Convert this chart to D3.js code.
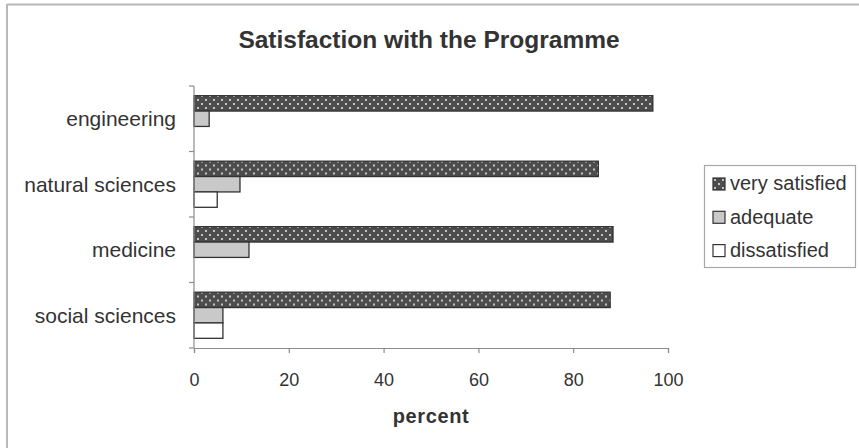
<!DOCTYPE html>
<html>
<head>
<meta charset="utf-8">
<script src="https://cdn.jsdelivr.net/npm/d3@7"></script>
<style>
  html, body { margin: 0; padding: 0; background: #fff; }
  svg { display: block; font-family: "Liberation Sans", Arial, sans-serif; }
</style>
</head>
<body>
<svg id="chart" width="859" height="448"></svg>
<script>
// Programme satisfaction by faculty (percent of respondents)
const categories = ["engineering", "natural sciences", "medicine", "social sciences"];
const seriesNames = ["very satisfied", "adequate", "dissatisfied"];
const verySatisfied = [96.8, 85.3, 88.4, 87.8];
const adequate      = [3.2, 9.7, 11.6, 6.1];
const dissatisfied  = [0, 4.9, 0, 6.1];
const xTicks = [0, 20, 40, 60, 80, 100];
const titleText = "Satisfaction with the Programme";
const xTitle = "percent";

const seriesValues = [verySatisfied, adequate, dissatisfied];
const rows = categories.map((c, i) => ({
  category: c,
  values: seriesNames.map((s, k) => ({ series: s, value: seriesValues[k][i] }))
}));

const svg = d3.select("#chart");
const textColor = "#333";
const axisColor = "#8c8c8c";

// patterns for the bar fills
const defs = svg.append("defs");
const dots = defs.append("pattern")
  .attr("id", "dots").attr("patternUnits", "userSpaceOnUse")
  .attr("width", 8).attr("height", 8)
  .attr("x", 0).attr("y", 0);
dots.append("rect").attr("width", 8).attr("height", 8).attr("fill", "#4d4d4d");
dots.append("rect").attr("x", 1).attr("y", 1).attr("width", 2).attr("height", 2).attr("fill", "#c4c4c4");
dots.append("rect").attr("x", 5).attr("y", 5).attr("width", 2).attr("height", 2).attr("fill", "#c4c4c4");

const fills = {
  "very satisfied": "url(#dots)",
  "adequate": "#c9c9c9",
  "dissatisfied": "#ffffff"
};

// chart frame (top and left edges)
svg.append("line").attr("x1", 7).attr("x2", 859).attr("y1", 4.5).attr("y2", 4.5)
  .attr("stroke", "#b8b8b8").attr("stroke-width", 2);
svg.append("line").attr("x1", 7).attr("x2", 7).attr("y1", 4).attr("y2", 448)
  .attr("stroke", "#b8b8b8").attr("stroke-width", 2);

// scales
const x = d3.scaleLinear().domain([0, 100]).range([194, 668]);
const y0 = d3.scaleBand().domain(categories).range([86, 348]).paddingInner(0).paddingOuter(0);
const y1 = d3.scaleBand().domain(seriesNames).range([0, y0.bandwidth()]).paddingInner(0).paddingOuter(0.63);

// title
svg.append("text")
  .attr("x", 429).attr("y", 48)
  .attr("text-anchor", "middle")
  .attr("font-size", 24.5).attr("font-weight", "bold")
  .attr("fill", textColor)
  .text(titleText);

// bars
const groups = svg.append("g").selectAll("g")
  .data(rows).join("g")
  .attr("transform", d => `translate(0,${y0(d.category)})`);

groups.selectAll("rect")
  .data(d => d.values.filter(v => v.value > 0))
  .join("rect")
  .attr("x", x(0))
  .attr("y", v => y1(v.series))
  .attr("width", v => x(v.value) - x(0))
  .attr("height", y1.bandwidth())
  .attr("fill", v => fills[v.series])
  .attr("stroke", "#333")
  .attr("stroke-width", 1.3);

// x axis
const xAxis = svg.append("g")
  .attr("transform", "translate(0,348)")
  .call(d3.axisBottom(x).tickValues(xTicks).tickSize(5).tickFormat(d3.format("d")));
xAxis.select(".domain").attr("stroke", axisColor).attr("stroke-width", 1.2);
xAxis.selectAll(".tick line").attr("stroke", axisColor).attr("stroke-width", 1.2);
xAxis.selectAll(".tick text")
  .attr("font-size", 18).attr("fill", textColor)
  .attr("font-family", "Liberation Sans, Arial, sans-serif")
  .attr("dy", 0).attr("y", 38);

// y axis: ticks at category boundaries
const yAxisG = svg.append("g");
yAxisG.append("line")
  .attr("x1", x(0)).attr("x2", x(0))
  .attr("y1", y0.range()[0]).attr("y2", y0.range()[1])
  .attr("stroke", axisColor).attr("stroke-width", 1.2);
const boundaries = categories.map(c => y0(c)).concat([y0.range()[1]]);
yAxisG.selectAll("line.tk").data(boundaries).join("line")
  .attr("class", "tk")
  .attr("x1", x(0) - 5).attr("x2", x(0))
  .attr("y1", d => d).attr("y2", d => d)
  .attr("stroke", axisColor).attr("stroke-width", 1.2);
yAxisG.selectAll("text").data(categories).join("text")
  .attr("x", 176)
  .attr("y", d => y0(d) + y0.bandwidth() / 2 + 7.5)
  .attr("text-anchor", "end")
  .attr("font-size", 21)
  .attr("fill", textColor)
  .text(d => d);

// x axis title
svg.append("text")
  .attr("x", 431).attr("y", 423)
  .attr("text-anchor", "middle")
  .attr("font-size", 20).attr("font-weight", "bold")
  .attr("letter-spacing", 0.6)
  .attr("fill", textColor)
  .text(xTitle);

// legend
const legend = svg.append("g");
legend.append("rect")
  .attr("x", 704.5).attr("y", 165.5).attr("width", 151).attr("height", 102)
  .attr("fill", "#fff").attr("stroke", "#a8a8a8").attr("stroke-width", 1.2);
const items = legend.selectAll("g.item").data(seriesNames).join("g")
  .attr("class", "item")
  .attr("transform", (d, i) => `translate(713,${178 + i * 33.3})`);
items.append("rect")
  .attr("width", 12).attr("height", 12)
  .attr("fill", d => fills[d])
  .attr("stroke", "#333").attr("stroke-width", 1.2);
items.append("text")
  .attr("x", 17).attr("y", 12.3)
  .attr("font-size", 20)
  .attr("fill", textColor)
  .text(d => d);
</script>
</body>
</html>
